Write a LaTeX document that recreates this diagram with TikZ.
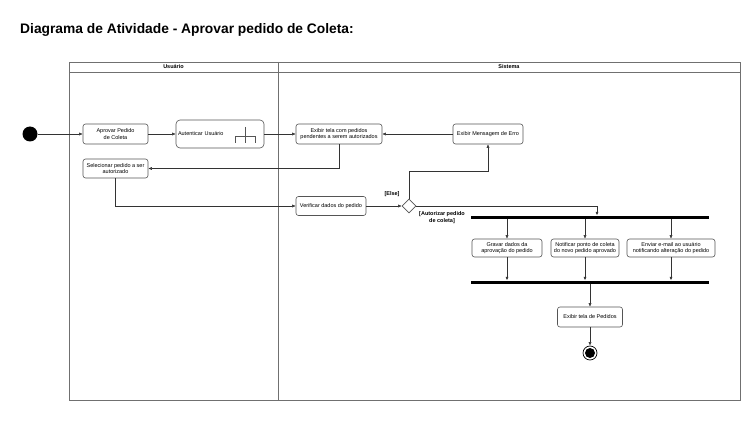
\documentclass[tikz,border=0pt]{standalone}
\usepackage{fontspec}
\setmainfont{Liberation Sans}
\usetikzlibrary{arrows.meta,shapes.geometric}
\definecolor{poolc}{HTML}{707070}
\definecolor{boxc}{HTML}{555555}
\begin{document}
\begin{tikzpicture}[x=1pt,y=-1pt,
  act/.style={draw=boxc,line width=0.6pt,rounded corners=2.5pt,align=center,inner sep=1pt,
    font=\fontsize{5.5}{6.5}\selectfont,minimum height=20pt},
  arr/.style={draw=black!80,line width=0.5pt,-{Latex[length=3.5pt,width=3pt]}},
  ln/.style={draw=black!80,line width=0.5pt},
  bar/.style={fill=black,inner sep=0pt,minimum height=3pt},
  lbl/.style={font=\bfseries\fontsize{5.5}{6.5}\selectfont,align=center,inner sep=0pt},
  hdr/.style={font=\bfseries\fontsize{5.5}{6.5}\selectfont,inner sep=0pt}]
\useasboundingbox (0,0) rectangle (755,441);
\fill[white] (0,0) rectangle (755,441);
% title
\node[anchor=west,font=\bfseries\fontsize{13.8}{16}\selectfont,inner sep=0pt] (title) at (20,30) {Diagrama de Atividade - Aprovar pedido de Coleta:};
% pool
\draw[poolc,line width=0.7pt] (69,62) rectangle (740,400);
\draw[poolc,line width=0.7pt] (69,72) -- (740,72);
\draw[poolc,line width=0.7pt] (278,62) -- (278,400);
\node[hdr] (h1) at (173.5,67) {Usuário};
\node[hdr] (h2) at (509,67) {Sistema};
% nodes
\node[circle,fill=black,minimum size=15pt,inner sep=0pt] (start) at (30,134) {};
\node[act,minimum width=65pt] (a1) at (115.5,134) {Aprovar Pedido\\de Coleta};
\node[act,minimum width=88pt,minimum height=28pt,rounded corners=4pt,text width=84pt,align=left] (a2) at (220,134) {Autenticar Usuário};
\draw[boxc,line width=0.6pt] (245,127) -- (245,143) (235,143) -- (235,136.5) -- (255,136.5) -- (255,143);
\node[act,minimum width=86pt] (a3) at (339,134) {Exibir tela com pedidos\\pendentes a serem autorizados};
\node[act,minimum width=65pt,minimum height=19pt] (a4) at (115.5,168.5) {Selecionar pedido a ser\\autorizado};
\node[act,minimum width=70pt,minimum height=19pt] (a5) at (331,206) {Verificar dados do pedido};
\node[act,minimum width=70pt] (a6) at (488,134) {Exibir Mensagem de Erro};
\node[diamond,draw=boxc,line width=0.6pt,minimum width=14pt,minimum height=14pt,inner sep=0pt,fill=white] (d) at (409,206) {};
\node[bar,minimum width=238pt] (fork) at (590,217) {};
\node[act,minimum width=70pt,minimum height=18pt] (b1) at (507,248) {Gravar dados da\\aprovação do pedido};
\node[act,minimum width=68pt,minimum height=18pt] (b2) at (585,248) {Notificar ponto de coleta\\do novo pedido aprovado};
\node[act,minimum width=88pt,minimum height=18pt] (b3) at (671,248) {Enviar e-mail ao usuário\\notificando alteração do pedido};
\node[bar,minimum width=238pt] (join) at (590,282) {};
\node[act,minimum width=65pt] (b4) at (590,317) {Exibir tela de Pedidos};
\node[circle,draw=black,line width=0.7pt,minimum size=14pt,inner sep=0pt] (end) at (590,353) {};
\fill[black] (end.center) circle (5pt);
% labels
\node[lbl] (l1) at (392,194) {[Else]};
\node[lbl] (l2) at (442,217.5) {[Autorizar pedido\\de coleta]};
% connectors
\coordinate (c1) at (409,171);
\coordinate (c2) at (597,206);
\draw[arr] (start) -- (a1);
\draw[arr] (a1) -- (a2);
\draw[arr] (a2) -- (a3);
\draw[arr] (a3.south) |- (a4.east);
\draw[arr] (a4.south) |- (a5.west);
\draw[arr] (a5) -- (d.west);
\draw[arr] (d.north) -- (c1) -| (a6.south);
\draw[arr] (a6) -- (a3);
\draw[arr] (d.east) -- (c2) -- (c2 |- fork.north);
\draw[arr] (b1.north |- fork.south) -- (b1.north);
\draw[arr] (b2.north |- fork.south) -- (b2.north);
\draw[arr] (b3.north |- fork.south) -- (b3.north);
\draw[arr] (b1.south) -- (b1.south |- join.north);
\draw[arr] (b2.south) -- (b2.south |- join.north);
\draw[arr] (b3.south) -- (b3.south |- join.north);
\draw[arr] (join.south -| b4.north) -- (b4.north);
\draw[arr] (b4) -- (end);
\end{tikzpicture}
\end{document}
